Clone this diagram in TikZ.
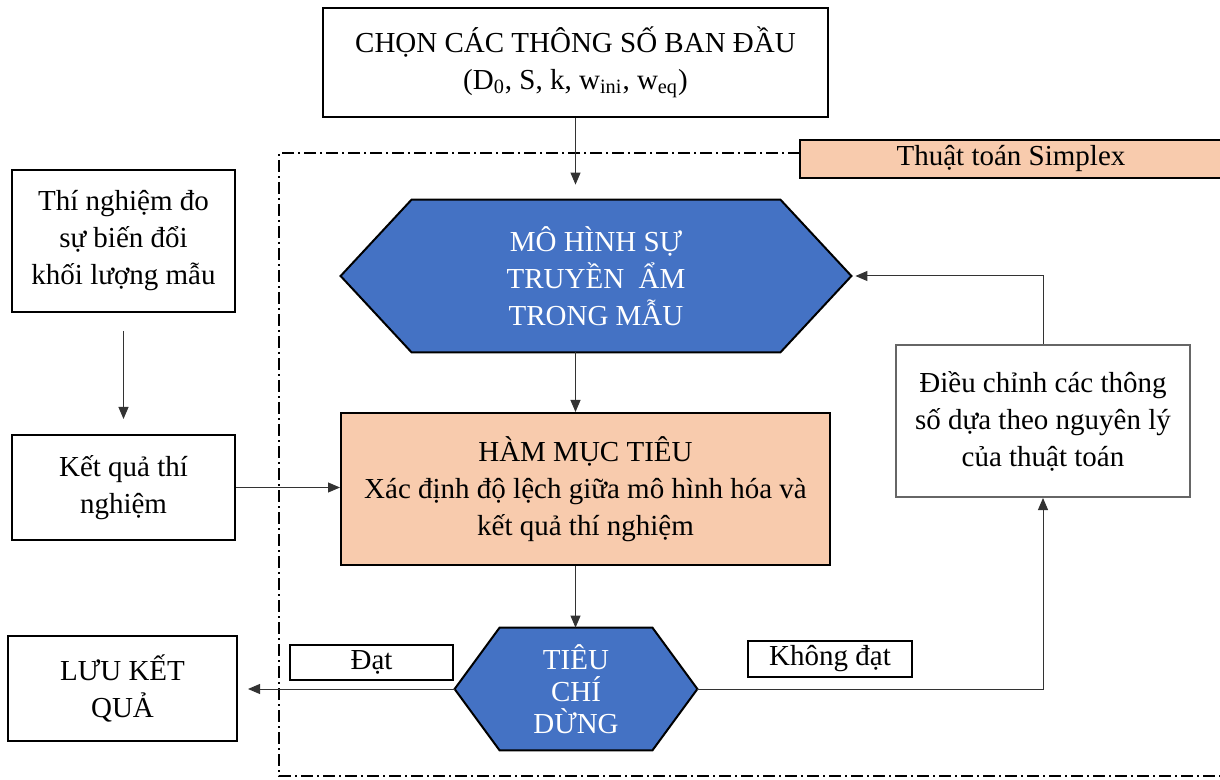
\documentclass[tikz,border=0pt]{standalone}
\usepackage{fontspec}
\setmainfont{Liberation Serif}
\usetikzlibrary{calc,arrows.meta,backgrounds}
\definecolor{hexblue}{HTML}{4472C4}
\definecolor{peach}{HTML}{F8CBAD}

\begin{document}
\begin{tikzpicture}[x=0.5pt, y=-0.5pt,
    every node/.style={font=\fontsize{14.5pt}{18.5pt}\selectfont},
    box/.style={draw=black, line width=1pt, align=center, inner sep=0pt},
    hexbox/.style={align=center, inner sep=0pt, text=white},
    hexline/.style={draw=black, line width=1pt, fill=hexblue},
    link/.style={draw=black!80, line width=0.5pt, -{Triangle[length=6pt,width=5pt]}},
    frame/.style={line width=0.8pt, dash pattern=on 6pt off 2pt on 1pt off 2pt}]
    \useasboundingbox (0,0) rectangle (1220,780);
    % dash-dot frame of the algorithm
    \draw[frame] (800,153) -- (279,153) -- (279,776) -- (1222,776);
    % boxes
    \node[box, minimum width=252.5pt, minimum height=54.5pt] (init) at (575.5,62.5)
        {CHỌN CÁC THÔNG SỐ BAN ĐẦU\\(D\textsubscript{0}, S, k, w\textsubscript{ini}, w\textsubscript{eq})};
    \node[box, fill=peach, minimum width=211pt, minimum height=19pt] (simplex) at (1011,159)
        {Thuật toán Simplex};
    \node[hexbox, minimum width=255pt, minimum height=76pt] (model) at (596,276)
        {MÔ HÌNH SỰ\\TRUYỀN~ ẨM\\TRONG MẪU};
    \node[box, fill=peach, minimum width=244.5pt, minimum height=76pt] (goal) at (585.5,489)
        {HÀM MỤC TIÊU\\Xác định độ lệch giữa mô hình hóa và\\kết quả thí nghiệm};
    \node[hexbox, minimum width=121pt, minimum height=61pt,
        font=\fontsize{14.5pt}{16pt}\selectfont] (stop) at (576,689)
        {TIÊU\\CHÍ\\DỪNG};
    \node[box, minimum width=111.5pt, minimum height=71pt] (test) at (123.5,241)
        {Thí nghiệm đo\\sự biến đổi\\khối lượng mẫu};
    \node[box, minimum width=111.5pt, minimum height=52.5pt] (result) at (123.5,487.5)
        {Kết quả thí\\nghiệm};
    \node[box, minimum width=114.5pt, minimum height=52.5pt] (save) at (122.5,688.5)
        {LƯU KẾT\\QUẢ};
    \node[box, minimum width=81.5pt, minimum height=17.5pt] (ok) at (371.5,662.5) {Đạt};
    \node[box, minimum width=82pt, minimum height=18pt] (notok) at (830,659) {Không đạt};
    \node[box, draw=black!60, minimum width=147pt, minimum height=76pt] (adjust) at (1043,421)
        {Điều chỉnh các thông\\số dựa theo nguyên lý\\của thuật toán};
    % hexagons
    \begin{scope}[on background layer]
        \draw[hexline] (model.west) -- ($(model.north west)+(71,0)$) -- ($(model.north east)+(-71,0)$)
            -- (model.east) -- ($(model.south east)+(-71,0)$) -- ($(model.south west)+(71,0)$) -- cycle;
        \draw[hexline] (stop.west) -- ($(stop.north west)+(45,0)$) -- ($(stop.north east)+(-45,0)$)
            -- (stop.east) -- ($(stop.south east)+(-45,0)$) -- ($(stop.south west)+(45,0)$) -- cycle;
    \end{scope}
    % connectors
    \draw[link, shorten >=7.5pt] (init.south) -- (init.south |- model.north);
    \draw[link] (init.south |- model.south) -- (init.south |- goal.north);
    \draw[link] (init.south |- goal.south) -- (init.south |- stop.north);
    \draw[link, shorten <=9pt, shorten >=7.5pt] (test.south) -- (result.north);
    \draw[link] (result.east) -- (result.east -| goal.west);
    \draw[link, shorten >=5pt] (stop.west) -- (stop.west -| save.east);
    \draw[link] (stop.east) -| (adjust.south);
    \draw[link, shorten >=2pt] (adjust.north) |- (model.east);
\end{tikzpicture}
\end{document}
